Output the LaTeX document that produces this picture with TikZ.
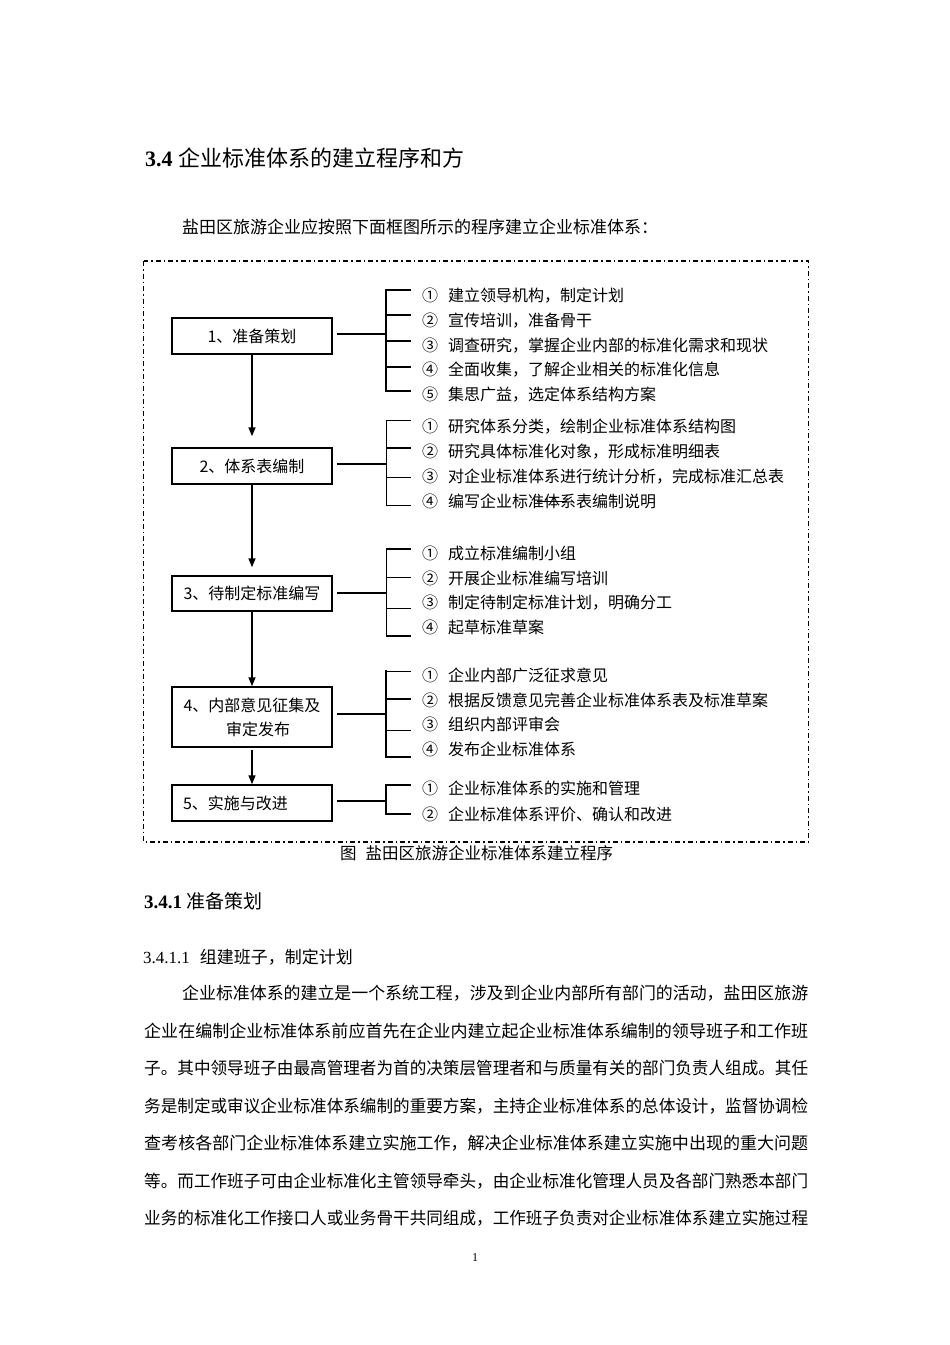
\documentclass[tikz,border=0pt]{standalone}
\usepackage{fontspec}
\usepackage{graphicx}
\setmainfont{Liberation Serif}
\newfontfamily\cjk{Noto Sans CJK SC}
\usetikzlibrary{arrows.meta}
\newcommand\fs[1]{\fontsize{#1pt}{#1pt}\selectfont}
\newcommand\circnum[1]{\makebox[26pt][l]{#1}}
\begin{document}
\begin{tikzpicture}[x=1pt,y=-1pt,
  stepbox/.style={draw, line width=1.5pt, minimum width=160pt, inner sep=0pt, align=center, font=\cjk\fs{16}},
  item/.style={anchor=west, inner sep=0pt, font=\cjk\fs{16}},
  arr/.style={line width=1.5pt, -{Triangle[length=9pt,width=7pt]}},
  conn/.style={line width=2pt},
  brk/.style={line width=1.3pt, line cap=rect},
  thintick/.style={line width=0.9pt},
  midtick/.style={line width=1.4pt},
  thicktick/.style={line width=2pt},
  frame/.style={line width=1.2pt, dash pattern=on 5pt off 3pt on 1.5pt off 3pt},
  body/.style={anchor=west, inner sep=0pt, font=\cjk\fs{17}},
  plain/.style={anchor=west, inner sep=0pt}
]
\fill[white] (0,0) rectangle (950,1345);
\useasboundingbox (0,0) rectangle (950,1345);

% headings
\node[plain] (title) at (145,158) {\fs{22}{\bfseries 3.4} {\cjk 企业标准体系的建立程序和方}};
\node[plain] (intro) at (182,227) {\cjk\fs{17}盐田区旅游企业应按照下面框图所示的程序建立企业标准体系：};

% frame
\draw[frame] (143.5,261) rectangle (808.5,842);

% step boxes
\node[stepbox, minimum height=36pt] (b1) at (252,336) {1、准备策划};
\node[stepbox, minimum height=36pt] (b2) at (252,466) {2、体系表编制};
\node[stepbox, minimum height=35pt] (b3) at (252,593.5) {3、待制定标准编写};
\node[stepbox, minimum height=60pt, font=\cjk\fontsize{16pt}{24pt}\selectfont] (b4) at (252,717) {4、内部意见征集及\\\hspace*{12pt}审定发布};
\node[stepbox, minimum height=36pt] (b5) at (252,803) {5、实施与改进\hspace*{33pt}};

% arrows
\draw[arr, shorten >=11pt] (b1) -- (b2);
\draw[arr, shorten >=8pt] (b2) -- (b3);
\draw[arr] (b3) -- (b4);
\draw[arr, shorten <=2pt] (b4) -- (b5);

% bracket junctions
\coordinate (k1) at (386,334);
\coordinate (k2) at (386,464);
\coordinate (k3) at (386,593);
\coordinate (k4) at (386,714);
\coordinate (k5) at (386,801);
\draw[conn, shorten <=4pt] (b1.east |- k1) -- (k1);
\draw[conn, shorten <=4pt] (b2.east |- k2) -- (k2);
\draw[conn, shorten <=4pt] (b3.east |- k3) -- (k3);
\draw[conn, shorten <=4pt] (b4.east |- k4) -- (k4);
\draw[conn, shorten <=4pt] (b5.east |- k5) -- (k5);

% group 1
\draw[brk] (386,290) -- (386,391);
\foreach \yy in {290,315,341,367,391} \draw[midtick] (386,\yy) -- (411,\yy);
\node[item] (i11) at (422,296) {\circnum{①}建立领导机构，制定计划};
\node[item] (i12) at (422,321) {\circnum{②}宣传培训，准备骨干};
\node[item] (i13) at (422,346) {\circnum{③}调查研究，掌握企业内部的标准化需求和现状};
\node[item] (i14) at (422,370) {\circnum{④}全面收集，了解企业相关的标准化信息};
\node[item] (i15) at (422,395) {\circnum{⑤}集思广益，选定体系结构方案};

% group 2
\draw[brk, line width=1pt] (386,420) -- (386,505);
\draw[thintick] (386,420) -- (411,420);
\draw[thicktick] (386,448) -- (411,448);
\draw[thintick] (386,477) -- (411,477);
\draw[thintick] (386,505) -- (411,505);
\node[item] (i21) at (422,426.5) {\circnum{①}研究体系分类，绘制企业标准体系结构图};
\node[item] (i22) at (422,451.5) {\circnum{②}研究具体标准化对象，形成标准明细表};
\node[item] (i23) at (422,476.5) {\circnum{③}对企业标准体系进行统计分析，完成标准汇总表};
\node[item] (i24) at (422,501.5) {\circnum{④}编写企业标准体系表编制说明};
\draw[line width=1pt] (537,501) -- (567,501);

% group 3
\draw[brk, line width=1pt] (386,549) -- (386,636);
\draw[midtick] (386,549) -- (411,549);
\draw[thintick] (386,577) -- (411,577);
\draw[thintick] (386,608) -- (411,608);
\draw[thicktick] (386,636) -- (411,636);
\node[item] (i31) at (422,553) {\circnum{①}成立标准编制小组};
\node[item] (i32) at (422,578) {\circnum{②}开展企业标准编写培训};
\node[item] (i33) at (422,603) {\circnum{③}制定待制定标准计划，明确分工};
\node[item] (i34) at (422,627) {\circnum{④}起草标准草案};

% group 4
\draw[brk, line width=2pt] (386,671) -- (386,757);
\draw[thintick] (386,671) -- (411,671);
\draw[midtick] (386,699) -- (411,699);
\draw[thintick] (386,730) -- (411,730);
\draw[thicktick] (386,757) -- (411,757);
\node[item] (i41) at (422,675) {\circnum{①}企业内部广泛征求意见};
\node[item] (i42) at (422,700) {\circnum{②}根据反馈意见完善企业标准体系表及标准草案};
\node[item] (i43) at (422,724.5) {\circnum{③}组织内部评审会};
\node[item] (i44) at (422,749.5) {\circnum{④}发布企业标准体系};

% group 5
\draw[brk, line width=1.5pt] (386,785) -- (386,814);
\draw[thicktick] (386,785) -- (411,785);
\draw[thicktick] (386,814) -- (411,814);
\node[item] (i51) at (422,788.5) {\circnum{①}企业标准体系的实施和管理};
\node[item] (i52) at (422,814) {\circnum{②}企业标准体系评价、确认和改进};

% caption
\node[plain] (cap) at (340,853) {\cjk\fs{16.5}图\hspace{9pt}盐田区旅游企业标准体系建立程序};

% section text
\node[plain] (s341) at (144,901.7) {\fs{19}{\bfseries 3.4.1} {\cjk 准备策划}};
\node[plain] (s3411) at (143,957) {\fs{17}3.4.1.1\hspace{10pt}{\cjk 组建班子，制定计划}};

\node[body] (p1) at (182,993) {\resizebox{626pt}{\height}{企业标准体系的建立是一个系统工程，涉及到企业内部所有部门的活动，盐田区旅游}};
\node[body] (p2) at (144,1030.6) {\resizebox{664pt}{\height}{企业在编制企业标准体系前应首先在企业内建立起企业标准体系编制的领导班子和工作班}};
\node[body] (p3) at (144,1068.2) {\resizebox{664pt}{\height}{子。其中领导班子由最高管理者为首的决策层管理者和与质量有关的部门负责人组成。其任}};
\node[body] (p4) at (144,1105.8) {\resizebox{664pt}{\height}{务是制定或审议企业标准体系编制的重要方案，主持企业标准体系的总体设计，监督协调检}};
\node[body] (p5) at (144,1143.4) {\resizebox{664pt}{\height}{查考核各部门企业标准体系建立实施工作，解决企业标准体系建立实施中出现的重大问题}};
\node[body] (p6) at (144,1181) {\resizebox{664pt}{\height}{等。而工作班子可由企业标准化主管领导牵头，由企业标准化管理人员及各部门熟悉本部门}};
\node[body] (p7) at (144,1218.6) {\resizebox{664pt}{\height}{业务的标准化工作接口人或业务骨干共同组成，工作班子负责对企业标准体系建立实施过程}};

\node[inner sep=0pt] (pg) at (475,1258) {\fs{12}1};
\end{tikzpicture}
\end{document}
